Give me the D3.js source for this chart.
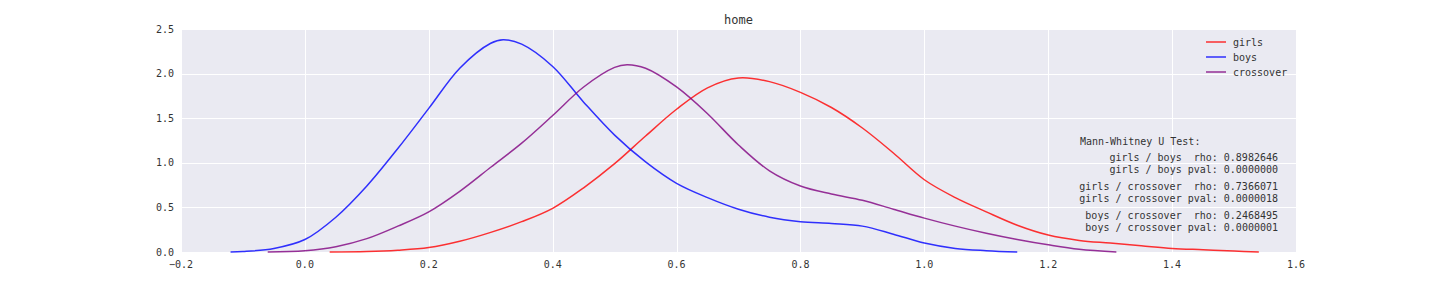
<!DOCTYPE html>
<html lang="en">
<head>
    <meta charset="UTF-8">
    <title>home</title>
    <script src="https://d3js.org/d3.v7.min.js"></script>
    <style>
        body { margin: 0; background: #fff; }
        text { font-family: "DejaVu Sans Mono", monospace; fill: #333; }
    </style>
</head>
<body>
<svg id="main" width="1440" height="288"></svg>
<script>
    // density curves: [x, density]
    let girls = [[0.04,0],[0.1,0.005],[0.15,0.02],[0.2,0.05],[0.25,0.12],[0.3,0.22],[0.35,0.34],[0.4,0.49],
        [0.45,0.72],[0.5,0.99],[0.55,1.30],[0.6,1.60],[0.65,1.84],[0.7,1.95],[0.75,1.91],[0.8,1.79],[0.85,1.62],
        [0.9,1.39],[0.95,1.11],[1.0,0.81],[1.05,0.61],[1.1,0.45],[1.15,0.30],[1.2,0.19],[1.25,0.13],[1.3,0.10],
        [1.35,0.07],[1.4,0.04],[1.45,0.025],[1.5,0.01],[1.54,0]];
    let boys = [[-0.12,0],[-0.1,0.005],[-0.05,0.04],[0.0,0.14],[0.05,0.39],[0.1,0.74],[0.15,1.16],[0.2,1.61],
        [0.25,2.06],[0.3,2.34],[0.32,2.38],[0.35,2.33],[0.4,2.08],[0.45,1.68],[0.5,1.31],[0.55,1.01],[0.6,0.77],
        [0.65,0.61],[0.7,0.48],[0.75,0.39],[0.8,0.34],[0.85,0.32],[0.9,0.29],[0.95,0.20],[1.0,0.10],[1.05,0.04],
        [1.1,0.015],[1.15,0]];
    let crossover = [[-0.06,0],[0.0,0.015],[0.05,0.06],[0.1,0.15],[0.15,0.29],[0.2,0.45],[0.25,0.68],[0.3,0.95],
        [0.35,1.22],[0.4,1.53],[0.45,1.85],[0.5,2.07],[0.52,2.10],[0.55,2.06],[0.6,1.85],[0.65,1.55],[0.7,1.20],
        [0.75,0.91],[0.8,0.74],[0.85,0.65],[0.9,0.58],[0.95,0.48],[1.0,0.38],[1.05,0.29],[1.1,0.21],[1.15,0.14],
        [1.2,0.08],[1.25,0.03],[1.31,0]];
    let seriesNames = ['girls', 'boys', 'crossover'];
    let seriesColors = ['rgba(255,0,0,0.8)', 'rgba(0,0,255,0.8)', 'rgba(128,0,128,0.8)'];
    let xTicks = [-0.2, 0.0, 0.2, 0.4, 0.6, 0.8, 1.0, 1.2, 1.4, 1.6];
    let yTicks = [0.0, 0.5, 1.0, 1.5, 2.0, 2.5];
    let statsTitle = 'Mann-Whitney U Test:';
    let statsLines = [
        ['girls / boys  rho: 0.8982646', 'girls / boys pval: 0.0000000'],
        ['girls / crossover  rho: 0.7366071', 'girls / crossover pval: 0.0000018'],
        ['boys / crossover  rho: 0.2468495', 'boys / crossover pval: 0.0000001']
    ];

    let svg = d3.select('svg');
    let margins = {left: 181, right: 144, top: 29, bottom: 36};
    let w = 1440, h = 288;
    let xScale = d3.scaleLinear().domain([-0.2, 1.6]).range([margins.left, w - margins.right]);
    let yScale = d3.scaleLinear().domain([0, 2.5]).range([h - margins.bottom, margins.top]);

    svg.append('rect')
        .attr('x', xScale(-0.2)).attr('y', yScale(2.5))
        .attr('width', xScale(1.6) - xScale(-0.2))
        .attr('height', yScale(0) - yScale(2.5))
        .style('fill', '#EAEAF2');

    let grid = svg.append('g').style('stroke', '#fff').style('stroke-width', 1);
    grid.selectAll('.gx').data(xTicks).enter().append('line')
        .attr('x1', d => Math.round(xScale(d)) + 0.5).attr('x2', d => Math.round(xScale(d)) + 0.5)
        .attr('y1', yScale(2.5)).attr('y2', yScale(0));
    grid.selectAll('.gy').data(yTicks).enter().append('line')
        .attr('x1', xScale(-0.2)).attr('x2', xScale(1.6))
        .attr('y1', d => Math.round(yScale(d)) + 0.5).attr('y2', d => Math.round(yScale(d)) + 0.5);

    svg.selectAll('.xl').data(xTicks).enter().append('text')
        .attr('x', d => xScale(d)).attr('y', yScale(0) + 16)
        .attr('text-anchor', 'middle').style('font-size', '10px')
        .text(d => d3.format('.1f')(d).replace('-', '\u2212'));
    svg.selectAll('.yl').data(yTicks).enter().append('text')
        .attr('x', xScale(-0.2) - 7).attr('y', d => yScale(d)).attr('dy', '0.35em')
        .attr('text-anchor', 'end').style('font-size', '10px')
        .text(d => d3.format('.1f')(d));

    let line = d3.line()
        .x(d => xScale(d[0]))
        .y(d => yScale(d[1]))
        .curve(d3.curveCatmullRom.alpha(0.5));
    [girls, boys, crossover].forEach(function (s, i) {
        svg.append('path').datum(s).attr('d', line)
            .style('fill', 'none').style('stroke', seriesColors[i]).style('stroke-width', 1.5);
    });

    svg.append('text').attr('x', (xScale(-0.2) + xScale(1.6)) / 2).attr('y', 24)
        .attr('text-anchor', 'middle').style('font-size', '12px').text('home');

    let legend = svg.append('g');
    seriesNames.forEach(function (n, i) {
        legend.append('line').attr('x1', 1206).attr('x2', 1226)
            .attr('y1', 42 + i * 15).attr('y2', 42 + i * 15)
            .style('stroke', seriesColors[i]).style('stroke-width', 1.5);
        legend.append('text').attr('x', 1233).attr('y', 42 + i * 15).attr('dy', '0.35em')
            .style('font-size', '10px').text(n);
    });

    svg.append('text').attr('x', 1080).attr('y', 141).attr('dy', '0.35em')
        .style('font-size', '10px').text(statsTitle);
    statsLines.forEach(function (pair, i) {
        pair.forEach(function (t, j) {
            svg.append('text').attr('x', 1278).attr('y', 157 + i * 29 + j * 12).attr('dy', '0.35em')
                .attr('text-anchor', 'end').style('font-size', '10px')
                .style('white-space', 'pre').attr('xml:space', 'preserve').text(t);
        });
    });
</script>
</body>
</html>
